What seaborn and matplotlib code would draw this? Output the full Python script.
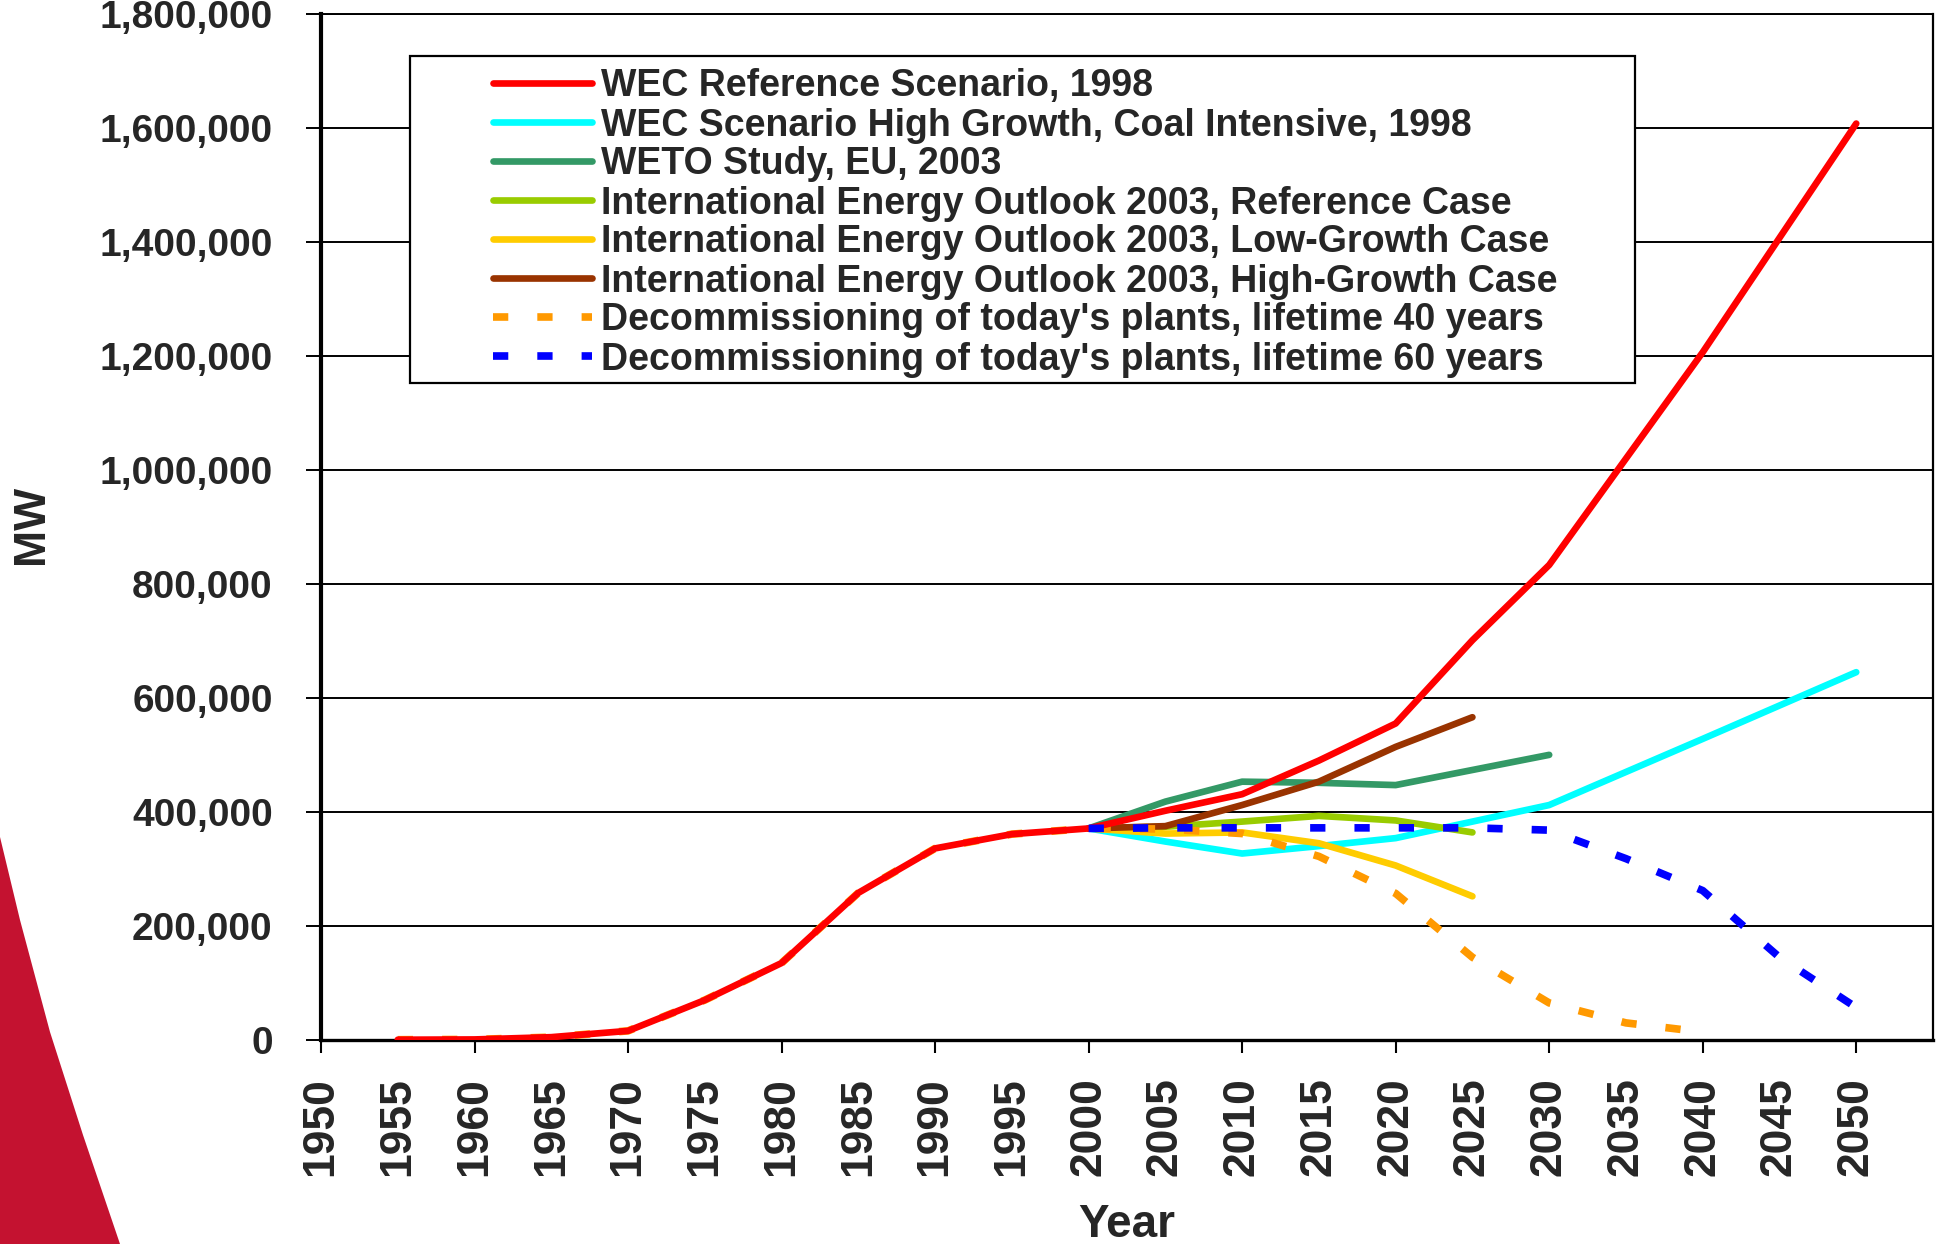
import matplotlib
matplotlib.use('Agg')
import matplotlib.pyplot as plt
import seaborn as sns
import pandas as pd
from matplotlib.patches import Rectangle, Polygon
from matplotlib.lines import Line2D
from matplotlib.ticker import FuncFormatter

# data (MW)
wec_ref_years = [1955, 1960, 1965, 1970, 1975, 1980, 1985, 1990, 1995, 2000,
                 2005, 2010, 2015, 2020, 2025, 2030, 2040, 2050]
wec_ref = [500, 1000, 5000, 16000, 70000, 135000, 258000, 336000, 361000, 371000,
           402000, 431000, 490000, 555000, 701000, 833000, 1206000, 1607000]

wec_high_years = [2000, 2005, 2010, 2015, 2020, 2030, 2040, 2050]
wec_high = [371000, 348000, 327000, 340000, 354000, 412000, 528000, 645000]

weto_years = [2000, 2005, 2010, 2015, 2020, 2030]
weto = [371000, 418000, 453000, 451000, 447000, 500000]

ieo_years = [2000, 2005, 2010, 2015, 2020, 2025]
ieo_ref = [371000, 374000, 383000, 393000, 385000, 364000]
ieo_low = [371000, 362000, 364000, 345000, 306000, 252000]
ieo_high = [371000, 375000, 412000, 453000, 514000, 566000]

dec40_years = [1955, 1960, 1965, 1970, 1975, 1980, 1985, 1990, 1995, 2000,
               2005, 2010, 2015, 2020, 2025, 2030, 2035, 2040]
dec40 = [500, 1000, 5000, 16000, 70000, 135000, 258000, 336000, 361000, 371000,
         370000, 362000, 322000, 257000, 145000, 65000, 30000, 14000]

dec60_years = [2000, 2005, 2010, 2015, 2020, 2025, 2030, 2035, 2040, 2045, 2050]
dec60 = [371000, 372000, 372000, 372000, 372000, 372000, 368000, 318000, 262000, 145000, 57000]

labels = ["WEC Reference Scenario, 1998",
          "WEC Scenario High Growth, Coal Intensive, 1998",
          "WETO Study, EU, 2003",
          "International Energy Outlook 2003, Reference Case",
          "International Energy Outlook 2003, Low-Growth Case",
          "International Energy Outlook 2003, High-Growth Case",
          "Decommissioning of today's plants, lifetime 40 years",
          "Decommissioning of today's plants, lifetime 60 years"]
colors = ['#ff0000', '#00ffff', '#339966', '#99cc00', '#ffcc00', '#993300', '#ff9900', '#0000ff']

sns.set_style('white')
plt.rcParams['font.family'] = ['Liberation Sans', 'DejaVu Sans']
plt.rcParams['font.weight'] = 'bold'

fig = plt.figure(figsize=(19.38, 12.44), dpi=100)
ax = fig.add_axes([321 / 1938, 1 - 1040 / 1244, (1933 - 321) / 1938, (1040 - 13.5) / 1244])

# red swoosh of the slide background
swoosh = Polygon([(0, 1 - 837 / 1244), (20 / 1938, 1 - 920 / 1244), (50 / 1938, 1 - 1032 / 1244),
                  (83 / 1938, 1 - 1135 / 1244), (120 / 1938, 0), (0, 0)],
                 closed=True, transform=fig.transFigure, facecolor='#c41230', edgecolor='none', zorder=0)
fig.patches.append(swoosh)

solid = dict(lw=4.8, solid_capstyle='round', solid_joinstyle='round')
dashed = dict(lw=5.5, linestyle=(0, (2.0, 3.8)), dash_capstyle='butt')

series = [
    (wec_high_years, wec_high, 1, solid, 2),
    (weto_years, weto, 2, solid, 2),
    (ieo_years, ieo_ref, 3, solid, 2),
    (ieo_years, ieo_low, 4, solid, 2),
    (ieo_years, ieo_high, 5, solid, 2),
    (dec40_years, dec40, 6, dashed, 3),
    (wec_ref_years, wec_ref, 0, solid, 3.5),
    (dec60_years, dec60, 7, dashed, 3.6),
]
for xs, ys, i, st, z in series:
    df = pd.DataFrame({'Year': xs, 'MW': ys})
    sns.lineplot(data=df, x='Year', y='MW', ax=ax, color=colors[i], zorder=z, **st)

ax.set_xlim(1950, 2055)
ax.set_ylim(0, 1800000)

ax.set_yticks(range(0, 1800001, 200000))
ax.yaxis.set_major_formatter(FuncFormatter(lambda v, p: f'{v:,.0f}'))
ax.tick_params(axis='y', direction='out', length=10.8, width=1.4, color='black',
               pad=24, labelsize=28, left=True)
ax.yaxis.grid(True, color='black', lw=1.4)
ax.xaxis.grid(False)

ax.xaxis.remove_overlapping_locs = False
ax.set_xticks(range(1950, 2051, 5))
ax.set_xticklabels([str(y) for y in range(1950, 2051, 5)], rotation=90, fontsize=32, fontweight='bold')
ax.tick_params(axis='x', which='major', length=0, pad=27)
ax.set_xticks(range(1950, 2051, 10), minor=True)
ax.tick_params(axis='x', which='minor', direction='out', length=9.4, width=1.5, color='black', bottom=True)
for t in ax.get_yticklabels():
    t.set_fontweight('bold')

for s in ax.spines.values():
    s.set_color('black')
ax.spines['left'].set_linewidth(3)
ax.spines['bottom'].set_linewidth(2.4)
ax.spines['right'].set_linewidth(1.6)
ax.spines['top'].set_linewidth(1.4)

ax.set_xlabel('')
ax.set_ylabel('')
fig.text(32 / 1938, 1 - 524 / 1244, 'MW', rotation=90, fontsize=32, fontweight='bold',
         ha='center', va='center')
fig.text(1127 / 1938, 0.006, 'Year', fontsize=33, fontweight='bold', ha='center', va='baseline')

# legend box
box = Rectangle((410 / 1938, 1 - 383 / 1244), (1635 - 410) / 1938, (383 - 56) / 1244,
                transform=fig.transFigure, facecolor='white', edgecolor='black', lw=1.6, zorder=4)
ax.add_patch(box)

handles = []
for i in range(8):
    if i < 6:
        handles.append(Line2D([], [], color=colors[i], lw=4.8, solid_capstyle='round'))
    else:
        handles.append(Line2D([], [], color=colors[i], lw=5.5, linestyle=(0, (2.0, 3.8))))
leg = ax.legend(handles, labels, loc='upper left', bbox_to_anchor=(493 / 1938, 1 - 68.5 / 1244),
                bbox_transform=fig.transFigure, frameon=False, fontsize=27, handlelength=2.64,
                handletextpad=0.24, borderpad=0, borderaxespad=0, labelspacing=0.08)
for t in leg.get_texts():
    t.set_fontweight('bold')
leg.set_zorder(5)

fig.savefig('out.png', dpi=100)
